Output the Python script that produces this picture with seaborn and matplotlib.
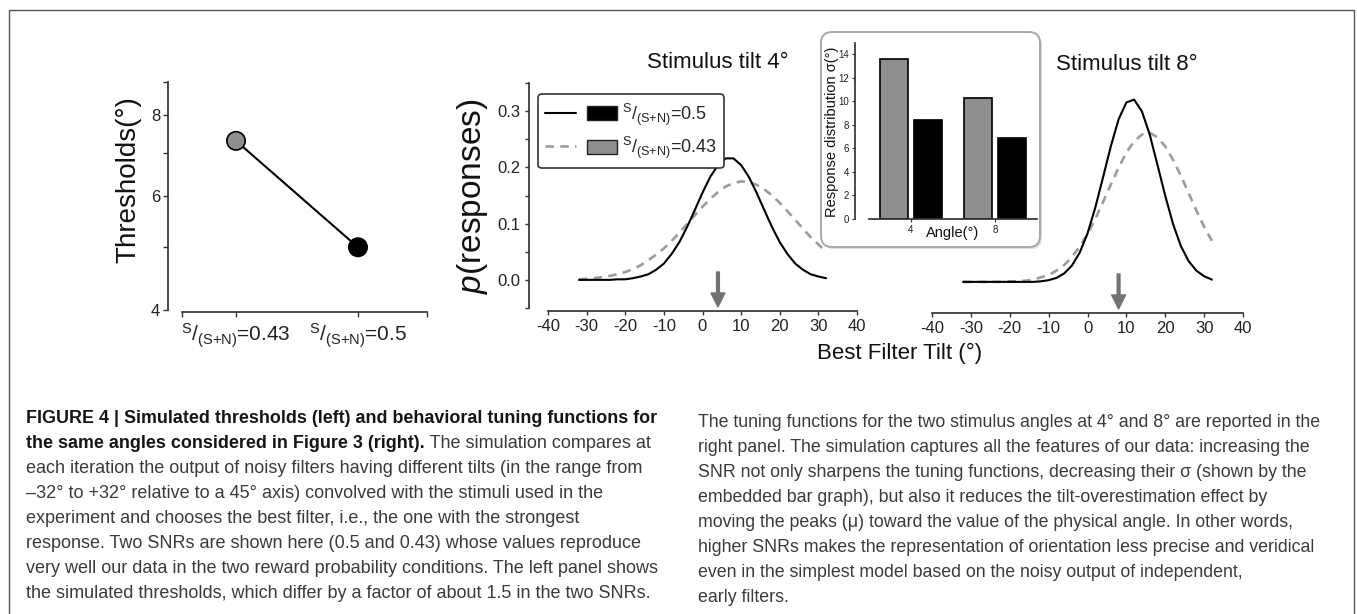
import matplotlib
matplotlib.use("Agg")
import matplotlib.pyplot as plt
import matplotlib.transforms as mtransforms
from matplotlib import font_manager
from matplotlib.legend_handler import HandlerTuple
from matplotlib.lines import Line2D
from matplotlib.patches import Patch, FancyBboxPatch, Rectangle
from matplotlib.ticker import FixedLocator, NullFormatter
import numpy as np
import pandas as pd
import seaborn as sns

# ---- data ----
snr_keys = ["0.43", "0.5"]
snr_labels = [r"$^{\rm S}/_{\rm (S{+}N)}$=0.43", r"$^{\rm S}/_{\rm (S{+}N)}$=0.5"]
thresholds = [7.3, 5.0]

stim_tilts = [4, 8]
sigma_snr043 = [13.6, 10.3]
sigma_snr05 = [8.45, 6.9]

filter_tilt = list(range(-32, 33, 2))
p_tilt4_snr05 = [0.000, 0.000, 0.000, 0.000, 0.000, 0.001, 0.001, 0.003, 0.006, 0.010,
                 0.018, 0.029, 0.046, 0.067, 0.094, 0.124, 0.155, 0.183, 0.204, 0.216,
                 0.216, 0.204, 0.183, 0.155, 0.124, 0.094, 0.067, 0.046, 0.029, 0.018,
                 0.010, 0.006, 0.003]
p_tilt4_snr043 = [0.001, 0.002, 0.003, 0.005, 0.007, 0.010, 0.014, 0.019, 0.026, 0.035,
                  0.045, 0.056, 0.069, 0.084, 0.099, 0.115, 0.130, 0.144, 0.156, 0.166,
                  0.172, 0.175, 0.174, 0.169, 0.161, 0.150, 0.137, 0.122, 0.107, 0.091,
                  0.076, 0.063, 0.050]
p_tilt8_snr05 = [0.000, 0.000, 0.000, 0.000, 0.000, 0.000, 0.000, 0.000, 0.000, 0.000,
                 0.001, 0.003, 0.007, 0.015, 0.029, 0.052, 0.086, 0.132, 0.186, 0.241,
                 0.289, 0.319, 0.324, 0.303, 0.262, 0.208, 0.153, 0.103, 0.064, 0.037,
                 0.020, 0.010, 0.004]
p_tilt8_snr043 = [0.000, 0.000, 0.000, 0.000, 0.000, 0.000, 0.001, 0.001, 0.002, 0.004,
                  0.008, 0.012, 0.020, 0.030, 0.044, 0.063, 0.085, 0.112, 0.142, 0.173,
                  0.203, 0.230, 0.250, 0.262, 0.265, 0.257, 0.241, 0.217, 0.189, 0.158,
                  0.127, 0.098, 0.073]

caption_left = [
    "FIGURE 4 | Simulated thresholds (left) and behavioral tuning functions for",
    "the same angles considered in Figure 3 (right).",
    "each iteration the output of noisy filters having different tilts (in the range from",
    "\u201332\u00b0 to +32\u00b0 relative to a 45\u00b0 axis) convolved with the stimuli used in the",
    "experiment and chooses the best filter, i.e., the one with the strongest",
    "response. Two SNRs are shown here (0.5 and 0.43) whose values reproduce",
    "very well our data in the two reward probability conditions. The left panel shows",
    "the simulated thresholds, which differ by a factor of about 1.5 in the two SNRs.",
]
caption_left_tail = " The simulation compares at"
caption_right = [
    "The tuning functions for the two stimulus angles at 4\u00b0 and 8\u00b0 are reported in the",
    "right panel. The simulation captures all the features of our data: increasing the",
    "SNR not only sharpens the tuning functions, decreasing their \u03c3 (shown by the",
    "embedded bar graph), but also it reduces the tilt-overestimation effect by",
    "moving the peaks (\u03bc) toward the value of the physical angle. In other words,",
    "higher SNRs makes the representation of orientation less precise and veridical",
    "even in the simplest model based on the noisy output of independent,",
    "early filters.",
]

# ---- style ----
sns.set_theme(style="ticks")
plt.rcParams["font.family"] = ["Liberation Sans", "DejaVu Sans"]
plt.rcParams["mathtext.fontset"] = "custom"
plt.rcParams["mathtext.rm"] = "Liberation Sans"
plt.rcParams["mathtext.it"] = "Liberation Sans:italic"
plt.rcParams["mathtext.bf"] = "Liberation Sans:bold"
plt.rcParams["axes.unicode_minus"] = False
plt.rcParams["axes.edgecolor"] = "#333333"
plt.rcParams["xtick.color"] = "#333333"
plt.rcParams["ytick.color"] = "#333333"
plt.rcParams["xtick.labelcolor"] = "#222222"
plt.rcParams["ytick.labelcolor"] = "#222222"

gray_fill = "#8e8e8e"
gray_dash = "#9c9c9c"
gray_arrow = "#727272"

W, H = 1357, 614
fig = plt.figure(figsize=(W / 100, H / 100), dpi=100)
fig.patch.set_facecolor("white")

# pixel coordinates with origin at top-left
px = mtransforms.Affine2D().scale(1 / 100, -1 / 100).translate(0, H / 100) + fig.dpi_scale_trans


def rect(x0, y0, x1, y1):
    return [x0 / W, 1 - y1 / H, (x1 - x0) / W, (y1 - y0) / H]


def pt(p):
    return p * 0.72


# outer frame
fig.patches.append(Rectangle((9, 10), 1345, 620, transform=px, fill=False,
                             edgecolor="#555555", lw=1.0, clip_on=False, zorder=0))

# ---- left panel: thresholds ----
ax_thr = fig.add_axes(rect(182, 82, 427, 310))
x_pos = list(range(len(thresholds)))
sns.lineplot(x=x_pos, y=thresholds, color="black", lw=1.5, ax=ax_thr)
sns.scatterplot(x=x_pos, y=thresholds, hue=snr_keys, palette={"0.43": gray_fill, "0.5": "black"},
                s=175, edgecolor="black", linewidth=1.2, legend=False, zorder=3, ax=ax_thr)
ax_thr.set_yscale("log")
ax_thr.set_ylim(4, 9)
ax_thr.set_xlim(-0.443, 1.566)
ax_thr.yaxis.set_major_locator(FixedLocator([4, 6, 8]))
ax_thr.yaxis.set_major_formatter(plt.FixedFormatter(["4", "6", "8"]))
ax_thr.yaxis.set_minor_locator(FixedLocator([5, 7, 9]))
ax_thr.yaxis.set_minor_formatter(NullFormatter())
ax_thr.set_xticks([-0.443] + x_pos + [1.566])
ax_thr.set_xticklabels([""] + snr_labels + [""])
ax_thr.tick_params(axis="y", which="both", length=pt(5), width=1, labelsize=12, pad=2)
ax_thr.tick_params(axis="x", length=pt(5), width=1, pad=3, labelsize=15)
ax_thr.spines[["top", "right"]].set_visible(False)
ax_thr.spines["left"].set_position(("outward", pt(14)))
ax_thr.spines["bottom"].set_position(("outward", pt(2)))
ax_thr.set_xlabel("")
ax_thr.set_ylabel("")
fig.text(128 / W, 1 - 180 / H, "Thresholds(\u00b0)", rotation=90, ha="center", va="center",
         fontsize=20, color="#111111")

# ---- tuning panels ----
ax_t4 = fig.add_axes(rect(548, 83, 857, 308))
ax_t8 = fig.add_axes(rect(932, 85, 1243, 310))
curves = [(ax_t4, p_tilt4_snr05, p_tilt4_snr043, stim_tilts[0]),
          (ax_t8, p_tilt8_snr05, p_tilt8_snr043, stim_tilts[1])]
for ax, p05, p043, tilt in curves:
    sns.lineplot(x=filter_tilt, y=p043, color=gray_dash, lw=1.9, ls=(0, (3.2, 2.4)), ax=ax)
    sns.lineplot(x=filter_tilt, y=p05, color="black", lw=1.5, ax=ax)
    ax.annotate("", xy=(tilt, -0.048), xytext=(tilt, 0.014),
                arrowprops=dict(facecolor=gray_arrow, edgecolor=gray_arrow, width=2.0,
                                headwidth=10, headlength=10, shrink=0))
    ax.set_xlim(-40, 40)
    ax.set_ylim(-0.05, 0.35)
    ax.set_xticks(range(-40, 41, 10))
    ax.tick_params(axis="x", length=pt(4), width=1, labelsize=12, pad=3)
    ax.spines[["top", "right"]].set_visible(False)
    ax.spines["bottom"].set_position(("outward", pt(3)))
    ax.set_xlabel("")
    ax.set_ylabel("")

ax_t4.set_yticks([0, 0.1, 0.2, 0.3])
ax_t4.set_yticklabels(["0.0", "0.1", "0.2", "0.3"])
ax_t4.yaxis.set_minor_locator(FixedLocator([-0.05, 0.05, 0.15, 0.25, 0.35]))
ax_t4.tick_params(axis="y", which="both", length=pt(4), width=1, labelsize=12, pad=3)
ax_t4.spines["left"].set_position(("outward", pt(19)))
ax_t8.spines["left"].set_visible(False)
ax_t8.tick_params(axis="y", which="both", left=False, labelleft=False)

fig.text(472 / W, 1 - 196 / H, r"$p$(responses)", rotation=90, ha="center", va="center",
         fontsize=24, color="#111111")
fig.text(718 / W, 1 - 63 / H, "Stimulus tilt 4\u00b0", ha="center", va="center", fontsize=16,
         color="#111111")
fig.text(1127 / W, 1 - 64 / H, "Stimulus tilt 8\u00b0", ha="center", va="center", fontsize=16,
         color="#111111")
fig.text(900 / W, 1 - 353 / H, "Best Filter Tilt (\u00b0)", ha="center", va="center",
         fontsize=16, color="#111111")

handles = [(Line2D([], [], color="black", lw=1.5), Patch(facecolor="black", edgecolor="#222222")),
           (Line2D([], [], color=gray_dash, lw=1.9, ls=(0, (3.2, 2.4))),
            Patch(facecolor=gray_fill, edgecolor="#222222"))]
leg = ax_t4.legend(handles, [snr_labels[1], snr_labels[0]],
                   handler_map={tuple: HandlerTuple(ndivide=None, pad=0.6)},
                   loc="upper left", bbox_to_anchor=(538 / W, 1 - 94 / H),
                   bbox_transform=fig.transFigure, borderaxespad=0, fontsize=13,
                   frameon=True, fancybox=True, framealpha=1, edgecolor="#333333",
                   handlelength=4.0, handleheight=0.8, labelspacing=0.4,
                   borderpad=0.4, handletextpad=0.25)
leg.get_frame().set_linewidth(1.2)

# ---- inset bar graph ----
fig.patches.append(FancyBboxPatch((823, 34), 219, 215, transform=px,
                                  boxstyle="round,pad=0,rounding_size=11",
                                  facecolor="#dcdcdc", edgecolor="none", zorder=3))
fig.patches.append(FancyBboxPatch((821, 32), 219, 215, transform=px,
                                  boxstyle="round,pad=0,rounding_size=11",
                                  facecolor="white", edgecolor="#a8a8a8", lw=1.4, zorder=3))
ax_in = fig.add_axes(rect(869, 42.7, 1037, 219), zorder=5)
ax_in.set_facecolor("none")
bars = pd.DataFrame({
    "angle": [str(a) for a in stim_tilts] * 2,
    "snr": ["0.43"] * len(stim_tilts) + ["0.5"] * len(stim_tilts),
    "sigma": sigma_snr043 + sigma_snr05,
})
sns.barplot(data=bars, x="angle", y="sigma", hue="snr", hue_order=snr_keys,
            palette={"0.43": gray_fill, "0.5": "black"}, width=0.8, gap=0.17,
            edgecolor="black", linewidth=1.2, legend=False, ax=ax_in)
ax_in.set_xlim(-0.5, 1.5)
ax_in.set_ylim(0, 15)
ax_in.set_yticks(range(0, 15, 2))
ax_in.tick_params(axis="both", length=pt(3), width=0.8, labelsize=7, pad=2)
ax_in.spines[["top", "right"]].set_visible(False)
ax_in.spines["left"].set_position(("outward", pt(14)))
ax_in.set_xlabel("Angle(\u00b0)", fontsize=10.5, labelpad=-6, color="#111111")
ax_in.set_ylabel("")
fig.text(832 / W, 1 - 132 / H, "Response distribution \u03c3(\u00b0)", rotation=90,
         ha="center", va="center", fontsize=10.5, color="#111111", zorder=6)

# ---- caption ----
font_names = {f.name for f in font_manager.fontManager.ttflist}
cap_family = "Liberation Sans Narrow" if "Liberation Sans Narrow" in font_names else "Liberation Sans"
renderer = fig.canvas.get_renderer()


def text_width(s, size, weight):
    t = fig.text(0, 0, s, fontsize=size, family=cap_family, weight=weight)
    w = t.get_window_extent(renderer=renderer).width
    t.remove()
    return w


reg_size = 10 * 633 / text_width(caption_left[6], 10, "normal")
bold_size = 10 * 628 / text_width(caption_left[0], 10, "bold")
reg_size_r = 10 * 628 / text_width(caption_right[0], 10, "normal")

for i, line in enumerate(caption_left):
    yb = 1 - (423 + 25 * i) / H
    if i == 0:
        fig.text(26 / W, yb, line, fontsize=bold_size, family=cap_family, weight="bold",
                 va="baseline", color="#151515")
    elif i == 1:
        tb = fig.text(26 / W, yb, line, fontsize=bold_size, family=cap_family, weight="bold",
                      va="baseline", color="#151515")
        wb = tb.get_window_extent(renderer=renderer).width
        fig.text((26 + wb) / W, yb, caption_left_tail, fontsize=reg_size, family=cap_family,
                 va="baseline", color="#3a3a3a")
    else:
        fig.text(26 / W, yb, line, fontsize=reg_size, family=cap_family, va="baseline",
                 color="#3a3a3a")

for i, line in enumerate(caption_right):
    yb = 1 - (427 + 25 * i) / H
    fig.text(698 / W, yb, line, fontsize=reg_size_r, family=cap_family, va="baseline",
             color="#3a3a3a")

fig.savefig("out.png", dpi=100)
